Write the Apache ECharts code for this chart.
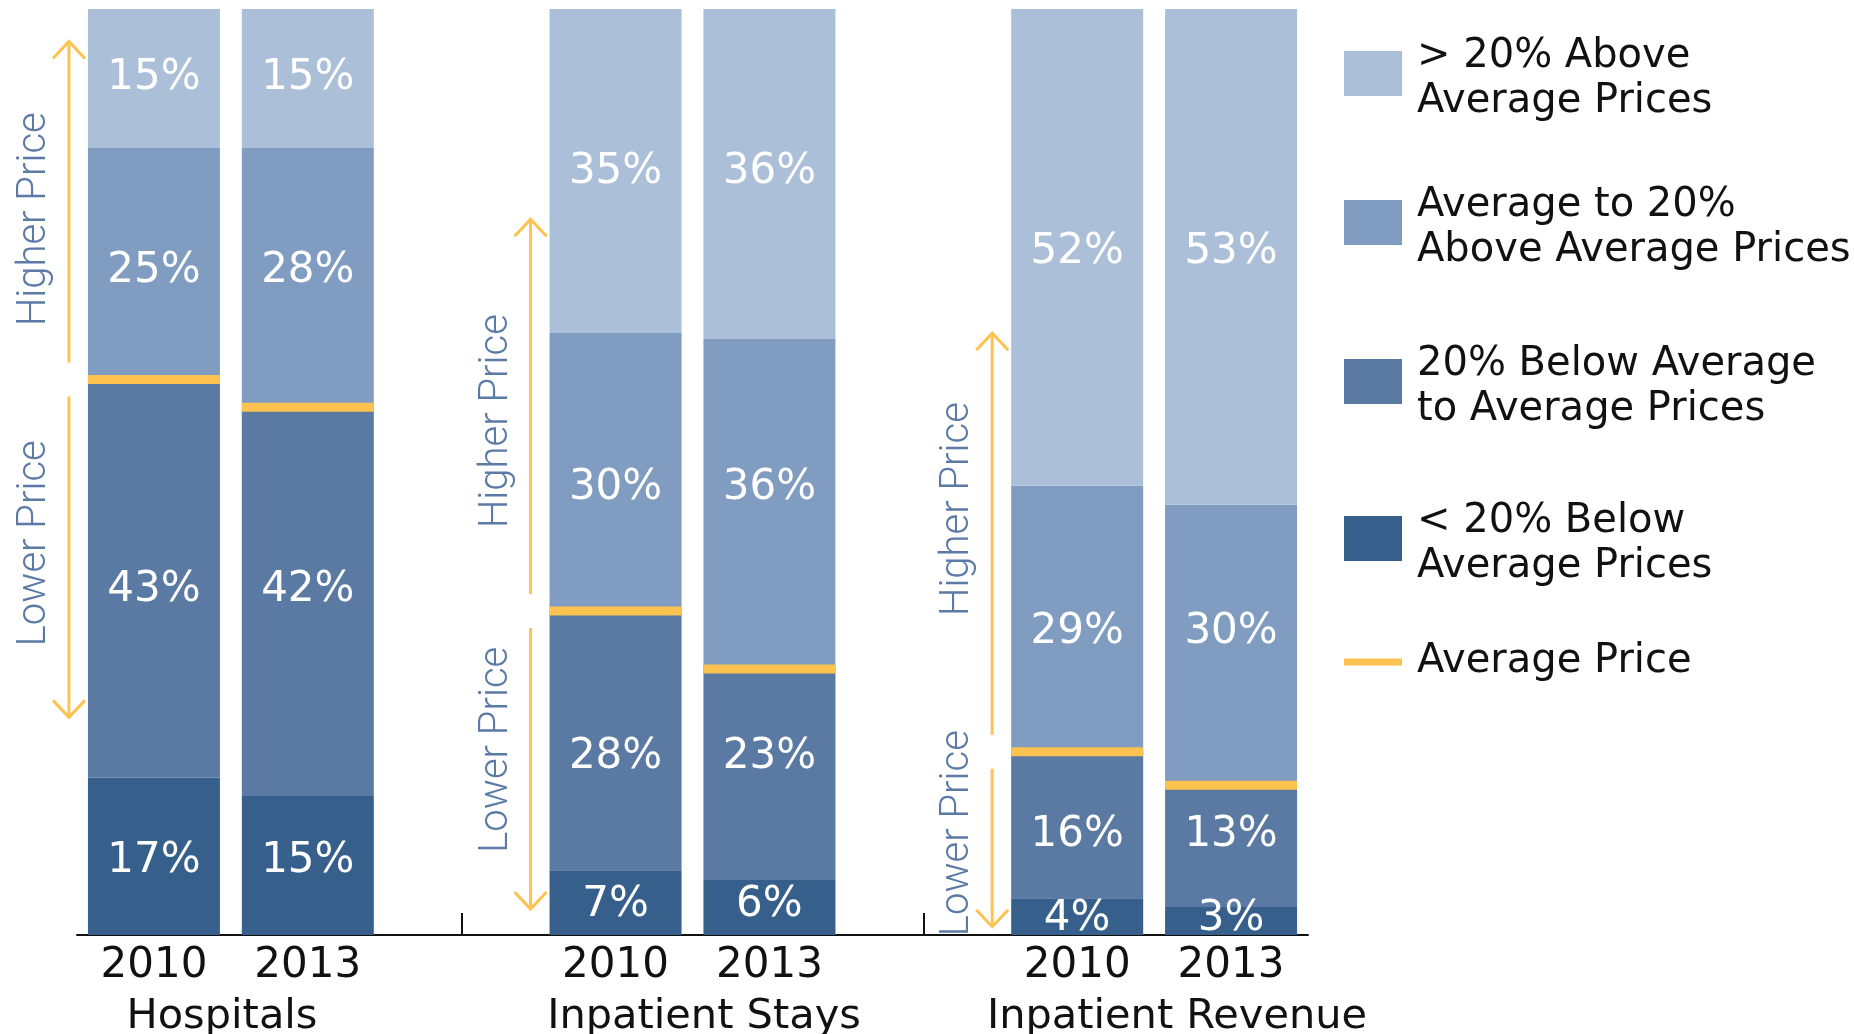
<!DOCTYPE html>
<html><head><meta charset="utf-8">
<script src="https://cdn.jsdelivr.net/npm/echarts@6/dist/echarts.min.js"></script>
<style>html,body{margin:0;padding:0;background:#fff}#c{width:1854px;height:1034px}</style>
</head><body><div id="c"></div>
<script>
// ---- data ----
const years = ['2010', '2013'];
const groups = ['Hospitals', 'Inpatient Stays', 'Inpatient Revenue'];
const seriesNames = ['> 20% Above\nAverage Prices', 'Average to 20%\nAbove Average Prices', '20% Below Average\nto Average Prices', '< 20% Below\nAverage Prices'];
const avgName = 'Average Price';
// one value per bar: Hosp 2010, Hosp 2013, Stays 2010, Stays 2013, Revenue 2010, Revenue 2013
const above20 = [15, 15, 35, 36, 52, 53];
const avgTo20Above = [25, 28, 30, 36, 29, 30];
const below20ToAvg = [43, 42, 28, 23, 16, 13];
const belowMore20 = [17, 15, 7, 6, 4, 3];
// annotation arrows (in % units) per group
const arrowTop = [96.5, 77.3, 65];
const arrowBottom = [23.5, 2.8, 0.9];
const higherLabelAt = [77.3, 55.5, 46];
const lowerLabelAt = [42.3, 20, 11];
const groupLabelX = [222, 704, 1177];

// ---- build ----
const cats = [];
groups.forEach((g, k) => { years.forEach(y => cats.push(y)); if (k < groups.length - 1) cats.push(''); });
const catIndex = i => Math.floor(i / 2) * 3 + (i % 2);
const totals = above20.map((v, i) => v + avgTo20Above[i] + below20ToAvg[i] + belowMore20[i]);
const share = (arr, i) => arr[i] / totals[i] * 100;
function toCats(arr) { const out = cats.map(() => '-'); arr.forEach((v, i) => { out[catIndex(i)] = +share(arr, i).toFixed(3); }); return out; }

const colors = ['#ACBFD9', '#809CC0', '#5A7AA3', '#375F8B'];
const yellow = '#FDC24F';
const stackOrder = [[belowMore20, 3], [below20ToAvg, 2], [avgTo20Above, 1], [above20, 0]];

const barSeries = stackOrder.map(([arr, ni]) => ({
  name: seriesNames[ni], type: 'bar', stack: 'total', barWidth: 132,
  data: toCats(arr), itemStyle: { color: colors[ni] },
  emphasis: { disabled: true }
}));

// value labels: centred in each segment, shared height within each pair of bars
const labelData = [];
stackOrder.forEach(([arr], si) => {
  const centers = arr.map((v, i) => {
    let base = 0;
    for (let k = 0; k < si; k++) base += share(stackOrder[k][0], i);
    return base + share(arr, i) / 2;
  });
  arr.forEach((v, i) => {
    const pair = i - (i % 2);
    labelData.push([catIndex(i), (centers[pair] + centers[pair + 1]) / 2, v]);
  });
});
function renderLabel(params, api) {
  const p = api.coord([api.value(0), api.value(1)]);
  return { type: 'text', x: p[0], y: p[1],
    style: { text: api.value(2) + '%', fill: '#fff', fontSize: 42, fontFamily: 'DejaVu Sans', align: 'center', verticalAlign: 'middle' } };
}

const avgData = belowMore20.map((v, i) => [catIndex(i), share(belowMore20, i) + share(below20ToAvg, i)]);

const arrowData = groups.map((g, k) => [k * 3, arrowTop[k], arrowBottom[k], avgData[2 * k][1], higherLabelAt[k], lowerLabelAt[k]]);

function renderArrows(params, api) {
  const xi = api.value(0);
  const pTop = api.coord([xi, api.value(1)]);
  const ax = pTop[0] - 66 - 19;
  const yTop = pTop[1];
  const yBot = api.coord([xi, api.value(2)])[1];
  const ySplit = api.coord([xi, api.value(3)])[1];
  const yHi = api.coord([xi, api.value(4)])[1];
  const yLo = api.coord([xi, api.value(5)])[1];
  const gap = 17, hw = 16, hh = 17;
  const ls = { stroke: yellow, lineWidth: 3, fill: 'none' };
  const txt = (t, y) => ({ type: 'text', x: ax - 34, y: y, rotation: Math.PI / 2,
    style: { text: t, fill: '#5B7BA6', fontSize: 40, fontFamily: 'Roboto', fontWeight: 300, align: 'center', verticalAlign: 'middle' } });
  return { type: 'group', children: [
    { type: 'polyline', shape: { points: [[ax, yTop], [ax, ySplit - gap]] }, style: ls },
    { type: 'polyline', shape: { points: [[ax - hw, yTop + hh], [ax, yTop], [ax + hw, yTop + hh]] }, style: ls },
    { type: 'polyline', shape: { points: [[ax, ySplit + gap], [ax, yBot]] }, style: ls },
    { type: 'polyline', shape: { points: [[ax - hw, yBot - hh], [ax, yBot], [ax + hw, yBot - hh]] }, style: ls },
    txt('Higher Price', yHi), txt('Lower Price', yLo)
  ] };
}

// swatch sits slightly above the centre of its two-line text
const swatchIcon = 'path://M0 0L58 0L58 45L0 45Z M0 57L0.1 57';
const legendTops = [34.5, 183.5, 342.5, 499.5, 639.5];
const legendNames = [seriesNames[0], seriesNames[1], seriesNames[2], seriesNames[3], avgName];
const legends = legendNames.map((n, i) => ({
  left: 1344, top: legendTops[i], padding: 0, orient: 'vertical', selectedMode: false,
  itemWidth: 58, itemHeight: i === 4 ? 7 : 57,
  data: [{ name: n, icon: i === 4 ? 'rect' : swatchIcon }],
  textStyle: { fontFamily: 'DejaVu Sans', fontSize: 40, lineHeight: 45, color: '#111', padding: [0, 0, 0, 10] }
}));

const chart = echarts.init(document.getElementById('c'));
chart.setOption({
  animation: false,
  backgroundColor: '#fff',
  grid: { left: 77, right: 546, top: 9, bottom: 99 },
  legend: legends,
  xAxis: {
    type: 'category', data: cats,
    axisLine: { lineStyle: { color: '#111', width: 2 } },
    axisTick: { show: true, inside: true, length: 22, alignWithLabel: true, interval: (i, v) => v === '', lineStyle: { color: '#111', width: 2 } },
    axisLabel: { interval: 0, fontSize: 42, fontFamily: 'DejaVu Sans', color: '#111', margin: 10 }
  },
  yAxis: { type: 'value', min: 0, max: 100, show: false },
  series: barSeries.concat([
    { name: avgName, type: 'scatter', symbol: 'rect', symbolSize: [132, 9], data: avgData, itemStyle: { color: yellow, opacity: 1 }, z: 3, emphasis: { disabled: true } },
    { type: 'custom', renderItem: renderArrows, data: arrowData, encode: { x: 0, y: 1 }, z: 4, silent: true },
    { type: 'custom', renderItem: renderLabel, data: labelData, encode: { x: 0, y: 1 }, z: 5, silent: true }
  ]),
  graphic: groups.map((g, k) => ({
    type: 'text', x: groupLabelX[k], y: 1017,
    style: { text: g, fill: '#111', fontSize: 41.5, fontFamily: 'DejaVu Sans', align: 'center', verticalAlign: 'middle' }
  }))
});
</script></body></html>
